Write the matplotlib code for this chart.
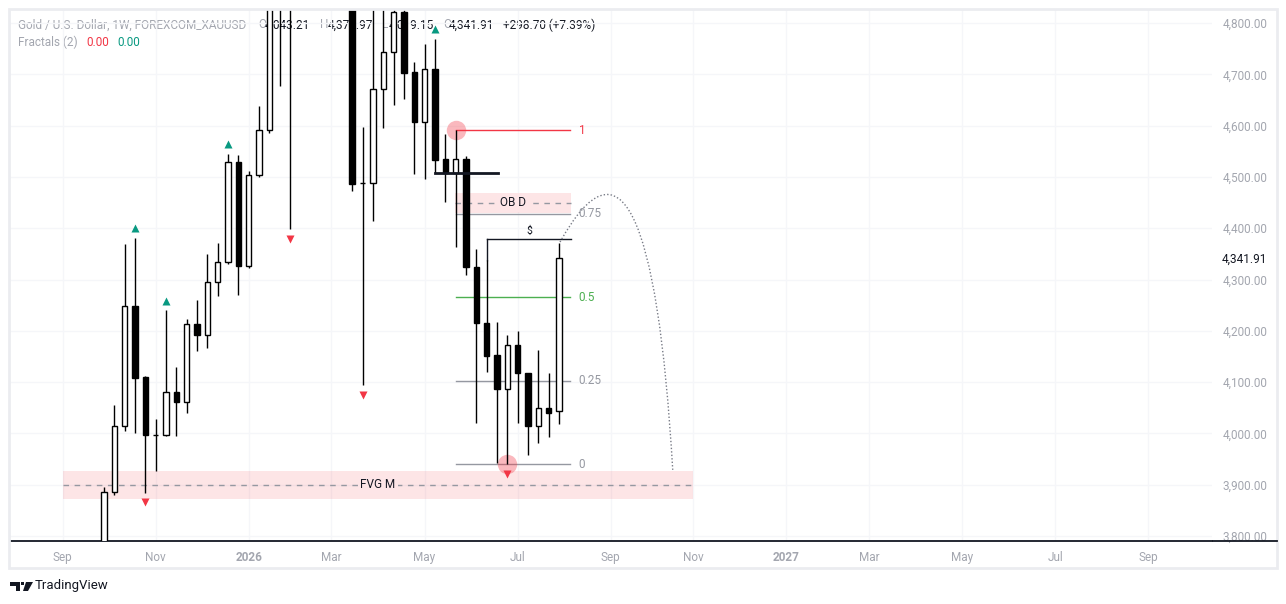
import matplotlib
matplotlib.use('Agg')
import matplotlib.pyplot as plt
import matplotlib.transforms as mtransforms
from matplotlib.path import Path
from matplotlib.patches import PathPatch, Rectangle, Polygon
from matplotlib.lines import Line2D
import numpy as np
import pandas as pd

plt.rcParams['font.family'] = ['Roboto', 'DejaVu Sans']

W, H = 1286, 604

# weekly XAUUSD candles, first bar = week of 2025-09-29
first_week = '2025-09-29'
opens = [3760, 3885, 4014, 4248, 4110, 3997, 3997, 4081, 4061, 4213,
         4192, 4295, 4334, 4529, 4326, 4504, 4591, 4985, 4870, 4960,
         5040, 4990, 5170, 5320, 5080, 4488, 4488, 4671, 4743, 4822,
         4704, 4607, 4710, 4535, 4508, 4535, 4324, 4215, 4153, 4087,
         4172, 4118, 4014, 4050, 4043.21]
highs = [3895, 4055, 4370, 4381, 4112, 4028, 4240, 4129, 4223, 4260,
         4350, 4371, 4545, 4542, 4511, 4638, 4990, 5595, 5090, 5120,
         5130, 5230, 5420, 5410, 5120, 4597, 4860, 4880, 4880, 4850,
         4724, 4759, 4769, 4584, 4591, 4541, 4359, 4338, 4217, 4192,
         4200, 4118, 4163, 4118, 4371.97]
lows = [3745, 3880, 4004, 4001, 3884, 3927, 3995, 3995, 4040, 4161,
        4166, 4268, 4330, 4270, 4322, 4500, 4585, 4677, 4398, 4860,
        4880, 4960, 5080, 5000, 4472, 4094, 4414, 4595, 4640, 4652,
        4506, 4496, 4508, 4451, 4363, 4309, 4020, 4120, 3942, 3940,
        4020, 3958, 3981, 3993, 4019.15]
closes = [3885, 4014, 4248, 4108, 3997, 3997, 4081, 4061, 4213, 4192,
          4295, 4334, 4529, 4326, 4504, 4591, 4985, 4870, 4960, 5040,
          4990, 5170, 5320, 5080, 4486, 4488, 4671, 4743, 4822, 4703,
          4607, 4710, 4533, 4508, 4535, 4324, 4215, 4151, 4087, 4172,
          4118, 4014, 4050, 4040, 4341.91]

fractal_up = [3, 6, 12, 32]
fractal_down = [4, 18, 25, 39]

# fib retracement anchors (bar, price)
fib_high_bar, fib_high = 34, 4591
fib_low_bar, fib_low = 39, 3940
fib_end_bar = 45.1
fib_levels = [1, 0.75, 0.5, 0.25, 0]
fib_names = ['1', '0.75', '0.5', '0.25', '0']
fib_colors = ['#f23645', '#9598a1', '#4caf50', '#9598a1', '#9598a1']

# zones: (bar from, bar to, price low, price high, label)
ob_zone = (33.9, 45.2, 4430, 4469, 'OB D')
fvg_zone = (-4.0, 57.0, 3872, 3927, 'FVG M')

struct_level, struct_from, struct_to = 4508, 32, 38.1
liq_level, liq_from, liq_to = 4379, 37, 45.2

# projection arc: start, control, end (bar, price)
arc_pts = [(44.1, 4373), (52.8, 4689), (55.0, 3929)]

price_ticks = list(range(3800, 4801, 100))
last_price = closes[-1]

dates = pd.date_range(first_week, periods=len(opens), freq='W-MON')
x = np.arange(len(opens))

fig = plt.figure(figsize=(W / 100, H / 100), dpi=100)
ax = fig.add_axes([10 / W, (H - 541) / H, (1212 - 10) / W, (541 - 10) / H])
px = mtransforms.Affine2D().scale(1 / W, -1 / H).translate(0, 1) + fig.transFigure

ax.set_xlim(-9.09, 107.15)
ax.set_ylim(3790.3, 4825.3)

# month ticks: first Monday of every other month
months = pd.date_range('2025-09-01', '2027-09-01', freq='2MS')
tick_pos, tick_lab = [], []
for m in months:
    first_mon = m + pd.Timedelta(days=(7 - m.weekday()) % 7)
    tick_pos.append((first_mon - dates[0]).days / 7)
    tick_lab.append(str(m.year) if m.month == 1 else m.strftime('%b'))
ax.set_xticks(tick_pos)
ax.set_xticklabels(tick_lab)
for lbl in ax.get_xticklabels():
    lbl.set_color('#a3a6af')
    lbl.set_fontsize(8.5)
    if lbl.get_text().isdigit():
        lbl.set_fontweight('bold')
ax.tick_params(axis='x', length=0, pad=7)

ax.yaxis.tick_right()
ax.set_yticks(price_ticks)
ax.set_yticklabels(['{:,.2f}'.format(v) for v in price_ticks])
ax.tick_params(axis='y', length=0, pad=40, labelsize=8.5, labelcolor='#a3a6af')
for lbl in ax.get_yticklabels():
    lbl.set_ha('right')

ax.grid(color='#f5f6f9', lw=1)
ax.set_axisbelow(True)
for s in ['top', 'left', 'right']:
    ax.spines[s].set_visible(False)
ax.spines['bottom'].set_color('#131722')
ax.spines['bottom'].set_linewidth(1.3)

# zones
for z in [ob_zone, fvg_zone]:
    ax.add_patch(Rectangle((z[0], z[2]), z[1] - z[0], z[3] - z[2],
                           facecolor='#f23645', alpha=0.13, lw=0, zorder=1))
    mid = (z[2] + z[3]) / 2
    ax.plot([z[0], z[1]], [mid, mid], color='#9598a1', lw=1,
            dashes=(4, 4), zorder=1.2)
    ax.text((z[0] + z[1]) / 2, mid, z[4], ha='center', va='center',
            fontsize=8.5, color='#131722', zorder=1.3,
            bbox=dict(facecolor='#fde5e7', edgecolor='none', pad=2))

# fib retracement
for lev, name, col in zip(fib_levels, fib_names, fib_colors):
    p = fib_low + lev * (fib_high - fib_low)
    ax.plot([fib_high_bar, fib_end_bar], [p, p], color=col, lw=1, zorder=1.5)
    ax.text(fib_end_bar + 0.8, p, name, color=col, fontsize=8.5,
            ha='left', va='center')

# structure and liquidity lines
ax.plot([struct_from, struct_to], [struct_level] * 2, color='#131722', lw=2, zorder=4)
ax.plot([liq_from, liq_to], [liq_level] * 2, color='#131722', lw=1, zorder=1.5)
ax.plot([liq_from, liq_from], [liq_level, highs[liq_from]], color='#131722', lw=1, zorder=1.5)
ax.text((liq_from + liq_to) / 2, liq_level + 6, '$', ha='center', va='bottom',
        fontsize=7.5, color='#131722')

# highlight circles on fib anchors
ax.plot([fib_high_bar, fib_low_bar], [fib_high, fib_low], 'o', ms=14,
        color='#f23645', alpha=0.35, mec='none', zorder=1.6)

# candles
up = np.array(closes) >= np.array(opens)
ax.vlines(x, lows, highs, color='#000000', lw=1, zorder=2)
body_lo = np.minimum(opens, closes)
body_h = np.abs(np.array(closes) - np.array(opens))
ax.bar(x, body_h, bottom=body_lo, width=0.52,
       color=np.where(up, '#ffffff', '#000000'), edgecolor='#000000',
       lw=1, zorder=3)

# fractals
up_off = mtransforms.offset_copy(ax.transData, fig=fig, x=0, y=9.5, units='dots')
dn_off = mtransforms.offset_copy(ax.transData, fig=fig, x=0, y=-9.5, units='dots')
ax.plot(fractal_up, [highs[i] for i in fractal_up], '^', ms=5.5,
        color='#089981', mec='none', transform=up_off, zorder=5)
ax.plot(fractal_down, [lows[i] for i in fractal_down], 'v', ms=5.5,
        color='#f23645', mec='none', transform=dn_off, zorder=5)

# projection arc
arc = Path(arc_pts, [Path.MOVETO, Path.CURVE3, Path.CURVE3])
ax.add_patch(PathPatch(arc, fill=False, edgecolor='#787b86', lw=1,
                       linestyle=(0, (1, 1.5)), zorder=2))

# last price on scale
ax.text(1267, 259, '{:,.2f}'.format(last_price), transform=px, ha='right',
        va='center', fontsize=8.5, color='#131722', clip_on=False)

# legend header (drawn under candles)
header = [
    (18, 25, 'Gold / U.S. Dollar, 1W, FOREXCOM_XAUUSD', '#a3a6af'),
    (258, 25, 'O', '#a3a6af'), (265, 25, '4,043.21', '#131722'),
    (320, 25, 'H', '#a3a6af'), (328, 25, '4,371.97', '#131722'),
    (382, 25, 'L', '#a3a6af'), (389, 25, '4,019.15', '#131722'),
    (443, 25, 'C', '#a3a6af'), (449, 25, '4,341.91', '#131722'),
    (503, 25, '+298.70 (+7.39%)', '#131722'),
    (18, 42, 'Fractals (2)', '#a3a6af'),
    (86, 42, '0.00', '#f23645'), (117, 42, '0.00', '#089981'),
]
for hx, hy, s, c in header:
    ax.text(hx, hy, s, transform=px, color=c, fontsize=8.5, ha='left',
            va='center', zorder=0.5, clip_on=False)

# frame and scale baseline
fig.add_artist(Rectangle((9, 9), 1268, 559, transform=px, fill=False,
                         edgecolor='#ebecf0', lw=2))
fig.add_artist(Line2D([1213, 1277], [541, 541], transform=px,
                      color='#131722', lw=1.3))

# TradingView mark
fig.add_artist(Polygon([(10, 582), (20, 582), (20, 591), (16, 591), (16, 586), (10, 586)],
                       transform=px, color='#131722', lw=0))
fig.add_artist(Polygon([(21, 582), (24, 582), (24, 585), (21, 585)],
                       transform=px, color='#131722', lw=0))
fig.add_artist(Polygon([(26, 582), (33, 582), (28, 591), (23, 591)],
                       transform=px, color='#131722', lw=0))
fig.text(35 / W, 1 - 586 / H, 'TradingView', fontsize=9.5, color='#131722',
         ha='left', va='center')

fig.savefig('out.png', dpi=100)
